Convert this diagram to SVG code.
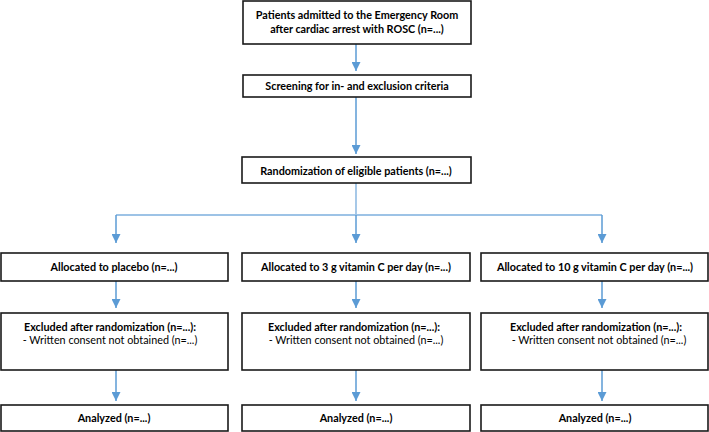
<svg xmlns="http://www.w3.org/2000/svg" width="709" height="432" viewBox="0 0 709 432">
<style>
.box{fill:#fff;stroke:#1a1a1a;stroke-width:1.6}
.t{font-family:Lato,"Liberation Sans",sans-serif;font-size:10.8px;font-weight:bold;fill:#000;text-anchor:middle}
.r{font-weight:normal}
.ln{fill:none;stroke:#5b9bd5;stroke-width:1.5}
.hl{fill:none;stroke:#9dc3e6;stroke-width:1.8}
</style>
<defs>
<marker id="ah" viewBox="0 0 10 10" refX="10" refY="5" markerWidth="9" markerHeight="9" markerUnits="userSpaceOnUse" orient="auto">
<path d="M0,0 L10,5 L0,10 z" fill="#5b9bd5"/>
</marker>
</defs>
<g id="connectors">
<line class="ln" x1="356" y1="44" x2="356" y2="71" marker-end="url(#ah)"/>
<line class="ln" x1="356" y1="97" x2="356" y2="154" marker-end="url(#ah)"/>
<line class="hl" x1="356" y1="183" x2="356" y2="215"/>
<line class="hl" x1="116" y1="215" x2="602" y2="215"/>
<line class="ln" x1="116" y1="215" x2="116" y2="243" marker-end="url(#ah)"/>
<line class="ln" x1="356" y1="215" x2="356" y2="243" marker-end="url(#ah)"/>
<line class="ln" x1="602" y1="215" x2="602" y2="243" marker-end="url(#ah)"/>
<line class="ln" x1="116" y1="281" x2="116" y2="308" marker-end="url(#ah)"/>
<line class="ln" x1="356" y1="281" x2="356" y2="308" marker-end="url(#ah)"/>
<line class="ln" x1="602" y1="281" x2="602" y2="308" marker-end="url(#ah)"/>
<line class="ln" x1="116" y1="370" x2="116" y2="401" marker-end="url(#ah)"/>
<line class="ln" x1="356" y1="370" x2="356" y2="401" marker-end="url(#ah)"/>
<line class="ln" x1="602" y1="370" x2="602" y2="401" marker-end="url(#ah)"/>
</g>
<g id="admitted">
<rect class="box" x="243" y="1" width="228" height="43"/>
<text class="t" x="357" y="19">Patients admitted to the Emergency Room</text>
<text class="t" x="357" y="33">after cardiac arrest with ROSC (n=...)</text>
</g>
<g id="screening">
<rect class="box" x="243" y="75" width="228" height="22"/>
<text class="t" x="357" y="90">Screening for in- and exclusion criteria</text>
</g>
<g id="randomization">
<rect class="box" x="242" y="157" width="229" height="26"/>
<text class="t" x="356" y="175">Randomization of eligible patients (n=...)</text>
</g>
<g id="alloc-placebo">
<rect class="box" x="1" y="253" width="227" height="28"/>
<text class="t" x="114" y="271">Allocated to placebo (n=...)</text>
</g>
<g id="alloc-3g">
<rect class="box" x="242" y="253" width="228" height="28"/>
<text class="t" x="356" y="271">Allocated to 3 g vitamin C per day (n=...)</text>
</g>
<g id="alloc-10g">
<rect class="box" x="481" y="253" width="227" height="28"/>
<text class="t" x="595" y="271">Allocated to 10 g vitamin C per day (n=...)</text>
</g>
<g id="excl-placebo">
<rect class="box" x="1" y="313" width="227" height="57"/>
<text class="t" x="110" y="331">Excluded after randomization (n=...):</text>
<text class="t r" x="110" y="344">- Written consent not obtained (n=...)</text>
</g>
<g id="excl-3g">
<rect class="box" x="242" y="313" width="228" height="57"/>
<text class="t" x="354" y="331">Excluded after randomization (n=...):</text>
<text class="t r" x="356" y="344">- Written consent not obtained (n=...)</text>
</g>
<g id="excl-10g">
<rect class="box" x="481" y="313" width="227" height="57"/>
<text class="t" x="596" y="331">Excluded after randomization (n=...):</text>
<text class="t r" x="599" y="344">- Written consent not obtained (n=...)</text>
</g>
<g id="analyzed-placebo">
<rect class="box" x="1" y="405" width="227" height="26"/>
<text class="t" x="114" y="422">Analyzed (n=...)</text>
</g>
<g id="analyzed-3g">
<rect class="box" x="242" y="405" width="228" height="26"/>
<text class="t" x="356" y="422">Analyzed (n=...)</text>
</g>
<g id="analyzed-10g">
<rect class="box" x="481" y="405" width="227" height="26"/>
<text class="t" x="595" y="422">Analyzed (n=...)</text>
</g>
</svg>
